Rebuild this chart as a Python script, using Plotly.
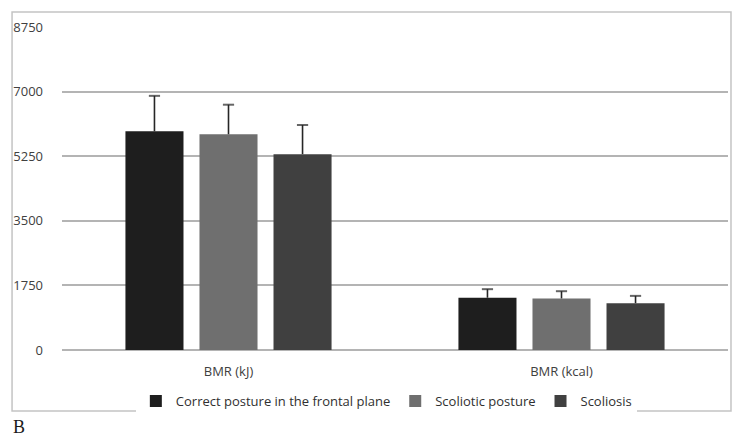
import plotly.graph_objects as go

categories = ["BMR (kJ)", "BMR (kcal)"]
series_names = ["Correct posture in the frontal plane", "Scoliotic posture", "Scoliosis"]
correct_vals = [5925, 1416]
correct_err = [960, 232]
scoliotic_vals = [5845, 1397]
scoliotic_err = [800, 196]
scoliosis_vals = [5305, 1268]
scoliosis_err = [790, 198]
y_ticks = [0, 1750, 3500, 5250, 7000, 8750]

colors = ["#1e1e1e", "#6f6f6f", "#404040"]
vals = [correct_vals, scoliotic_vals, scoliosis_vals]
errs = [correct_err, scoliotic_err, scoliosis_err]

fig = go.Figure()
for name, v, c in zip(series_names, vals, colors):
    fig.add_trace(go.Bar(x=categories, y=v, name=name,
                         marker=dict(color=c, line=dict(width=0))))

# upper-only error whiskers, aligned to the bars via scatter grouping
for name, v, e in zip(series_names, vals, errs):
    xs, ys, sizes = [], [], []
    for cat, val, err in zip(categories, v, e):
        xs += [cat, cat, None]
        ys += [val, val + err, None]
        sizes += [0, 8, 0]
    fig.add_trace(go.Scatter(
        x=xs, y=ys, mode="lines+markers", showlegend=False, hoverinfo="skip",
        line=dict(color="#262626", width=1.6),
        marker=dict(symbol="line-ew", size=sizes, line=dict(color="#262626", width=2)),
    ))

font_fam = "Open Sans, Liberation Sans, sans-serif"
fig.update_layout(
    width=733, height=428,
    margin=dict(l=54, r=13, t=19, b=86),
    paper_bgcolor="white", plot_bgcolor="white",
    barmode="group", bargap=0.333, bargroupgap=0.216,
    scattermode="group", scattergap=0.333,
    font=dict(family=font_fam, size=13, color="#404040"),
    showlegend=True,
    legend=dict(orientation="h", x=0.487, xanchor="center", y=-0.158, yanchor="middle",
                font=dict(size=13, color="#303030"), itemwidth=30,
                traceorder="normal"),
    xaxis=dict(showgrid=False, showline=False, ticks="", tickfont=dict(size=13, color="#404040"),
               ticklabelstandoff=12, automargin=False),
    yaxis=dict(range=[0, 8750], tickvals=y_ticks, ticktext=[str(t) for t in y_ticks],
               showgrid=True, gridcolor="#b4b4b4", gridwidth=2,
               zeroline=True, zerolinecolor="#b4b4b4", zerolinewidth=2,
               showline=False, ticks="", ticklabelstandoff=18, automargin=False,
               tickfont=dict(size=13, color="#404040")),
    shapes=[dict(type="rect", xref="paper", yref="paper",
                 x0=-0.075, x1=1.0045, y0=-0.189, y1=1.0464,
                 line=dict(color="#c4c4c4", width=1.5), fillcolor="rgba(0,0,0,0)", layer="below")],
    annotations=[dict(text="B", xref="paper", yref="paper", x=-0.077, y=-0.238,
                      xanchor="left", yanchor="middle", showarrow=False,
                      font=dict(family="Liberation Serif, DejaVu Serif, serif", size=18, color="#1a1a1a"))],
)
fig.write_html("out.html")
